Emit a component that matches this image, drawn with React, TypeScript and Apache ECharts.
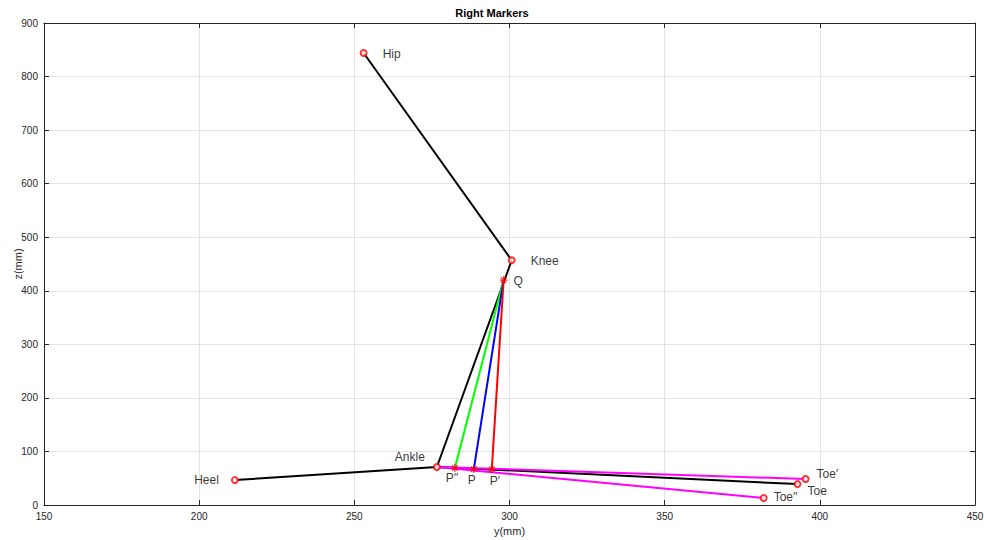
import React, { useEffect, useRef } from "react";
import * as echarts from "echarts";

// Marker names and coordinates (y in mm, z in mm)
const markerNames = ["Hip", "Knee", "Ankle", "Heel", "Toe", "Toe′", "Toe′′"];
const markerY = [253, 300.7, 276.6, 211.5, 392.8, 395.4, 381.9];
const markerZ = [844, 457, 71, 46.5, 39, 48.5, 13];

const starNames = ["Q", "P′′", "P", "P′"];
const starY = [298.1, 282.4, 288.5, 294.3];
const starZ = [420, 69, 67, 67];

const xTicks = [150, 450, 50];
const yTicks = [0, 900, 100];

const fontFamily = "Liberation Sans, Arial, Helvetica, sans-serif";

// label placement (pixel offsets), styling only
const labelStyle: Record<string, { align: string; offset: number[] }> = {
  Hip: { align: "left", offset: [19, 1] },
  Knee: { align: "left", offset: [19, 1] },
  Ankle: { align: "right", offset: [-12, -10] },
  Heel: { align: "right", offset: [-16, 0] },
  Toe: { align: "left", offset: [10, 7] },
  "Toe′": { align: "left", offset: [11, -5] },
  "Toe′′": { align: "left", offset: [10, -1] },
  Q: { align: "left", offset: [10, 1] },
  "P′′": { align: "center", offset: [-3, 10] },
  P: { align: "center", offset: [-2, 11] },
  "P′": { align: "center", offset: [3, 12] },
};

const pt = (name: string) => {
  let i = markerNames.indexOf(name);
  if (i >= 0) return [markerY[i], markerZ[i]];
  i = starNames.indexOf(name);
  return [starY[i], starZ[i]];
};

const segments: { from: string[]; color: string }[] = [
  { from: ["Hip", "Knee", "Ankle"], color: "#000000" },
  { from: ["Heel", "Ankle", "Toe"], color: "#000000" },
  { from: ["Ankle", "Toe′"], color: "#ff00ff" },
  { from: ["Ankle", "Toe′′"], color: "#ff00ff" },
  { from: ["Q", "P′′"], color: "#00ff00" },
  { from: ["Q", "P"], color: "#0000ff" },
  { from: ["Q", "P′"], color: "#ff0000" },
];

const asterisk =
  "path://M0,-1L0,1M-1,0L1,0M-0.7,-0.7L0.7,0.7M-0.7,0.7L0.7,-0.7";

export default function App() {
  const ref = useRef<HTMLDivElement>(null);
  useEffect(() => {
    if (!ref.current) return;
    const chart = echarts.init(ref.current, undefined, { renderer: "svg" });
    const mkLabel = (name: string) => {
      const s = labelStyle[name];
      return {
        show: true,
        formatter: name,
        position: "inside",
        align: s.align,
        verticalAlign: "middle",
        offset: s.offset,
        fontSize: 12,
        fontFamily,
        color: "#000",
      };
    };
    const axisCommon = {
      axisLine: { show: true, onZero: false, lineStyle: { color: "#262626", width: 1 } },
      axisTick: { show: true, inside: true, length: 5, lineStyle: { color: "#262626" } },
      splitLine: { show: true, lineStyle: { color: "#e3e3e3", width: 1 } },
      axisLabel: { color: "#262626", fontSize: 10, fontFamily },
    };
    const lineSeries = segments.map((s) => ({
      type: "line",
      data: s.from.map(pt),
      symbol: "none",
      lineStyle: { color: s.color, width: 2 },
      z: 2,
      silent: true,
    }));
    chart.setOption({
      animation: false,
      backgroundColor: "#ffffff",
      title: {
        text: "Right Markers",
        left: "center",
        top: 2,
        textStyle: { fontSize: 11, fontWeight: "bold", color: "#000", fontFamily },
      },
      grid: {
        left: 44,
        right: 9,
        top: 23,
        bottom: 35,
        containLabel: false,
        outerBoundsMode: "none",
      },
      xAxis: [
        {
          type: "value",
          min: xTicks[0],
          max: xTicks[1],
          interval: xTicks[2],
          name: "y(mm)",
          nameLocation: "middle",
          nameGap: 20,
          nameMoveOverlap: false,
          nameTextStyle: { fontSize: 11, color: "#262626", fontFamily },
          ...axisCommon,
          axisLabel: { ...axisCommon.axisLabel, margin: 6 },
        },
        {
          type: "value",
          position: "top",
          min: xTicks[0],
          max: xTicks[1],
          interval: xTicks[2],
          axisLine: axisCommon.axisLine,
          axisTick: axisCommon.axisTick,
          axisLabel: { show: false },
          splitLine: { show: false },
        },
      ],
      yAxis: [
        {
          type: "value",
          min: yTicks[0],
          max: yTicks[1],
          interval: yTicks[2],
          name: "z(mm)",
          nameLocation: "middle",
          nameGap: 21,
          nameMoveOverlap: false,
          nameTextStyle: { fontSize: 11, color: "#262626", fontFamily },
          ...axisCommon,
          axisLabel: { ...axisCommon.axisLabel, margin: 6 },
        },
        {
          type: "value",
          position: "right",
          min: yTicks[0],
          max: yTicks[1],
          interval: yTicks[2],
          axisLine: axisCommon.axisLine,
          axisTick: axisCommon.axisTick,
          axisLabel: { show: false },
          splitLine: { show: false },
        },
      ],
      series: [
        ...lineSeries,
        {
          type: "scatter",
          symbol: "emptyCircle",
          symbolSize: 6,
          itemStyle: { color: "#ff0000", borderColor: "#ff0000", borderWidth: 1.5 },
          data: markerNames.map((n, i) => ({
            value: [markerY[i], markerZ[i]],
            label: mkLabel(n),
          })),
          z: 3,
        },
        {
          type: "scatter",
          symbol: asterisk,
          symbolSize: 8,
          itemStyle: { color: "none", borderColor: "#ff0000", borderWidth: 1.2 },
          data: starNames.map((n, i) => ({
            value: [starY[i], starZ[i]],
            label: mkLabel(n),
          })),
          z: 3,
        },
      ],
    });
    return () => chart.dispose();
  }, []);
  return (
    <div
      ref={ref}
      style={{ position: "fixed", left: 0, top: 0, width: 984, height: 540 }}
    />
  );
}
